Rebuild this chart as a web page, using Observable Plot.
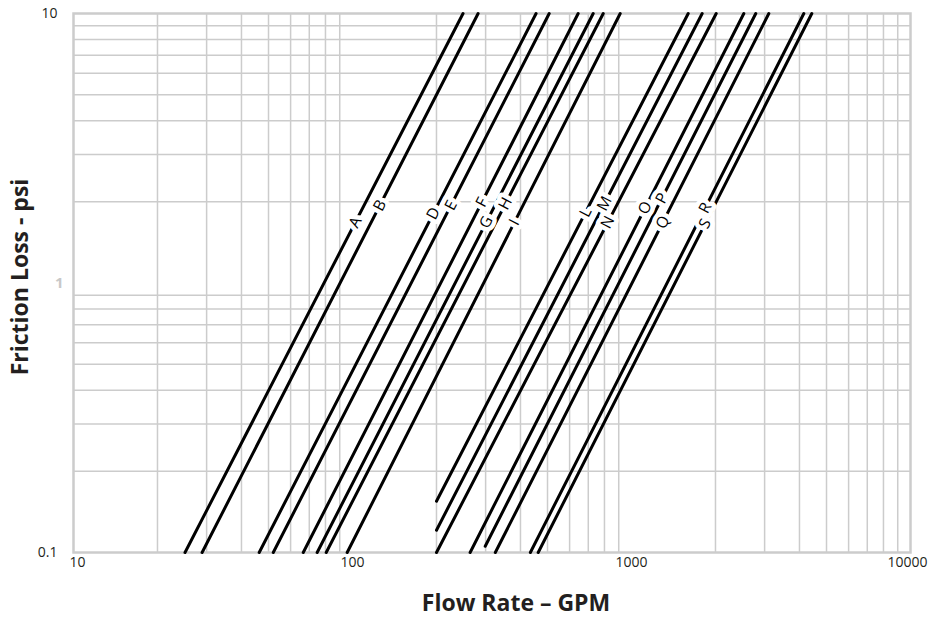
<!DOCTYPE html>
<html><head><meta charset="utf-8">
<script src="https://cdn.jsdelivr.net/npm/d3@7"></script>
<script src="https://cdn.jsdelivr.net/npm/@observablehq/plot@0.6"></script>
<style>body{margin:0;background:#fff;}</style>
</head><body><div id="chart"></div>
<script>
// Series: each friction-loss line runs from a start point to an end point
const names    = ["A","B","D","E","F","G","H","I","L","M","N","O","P","Q","R","S"];
const startGpm = [25.1, 28.9, 46.3, 52.0, 66.6, 74.7, 80.5, 95.7, 200, 200, 200, 264, 299, 325, 434, 463];
const startPsi = [0.1, 0.1, 0.1, 0.1, 0.1, 0.1, 0.1, 0.1, 0.155, 0.121, 0.1, 0.1, 0.1055, 0.1, 0.1, 0.1];
const endGpm   = [249, 282, 455, 507, 644, 729, 792, 911, 1597, 1792, 2012, 2527, 2789, 3106, 4146, 4429];
const endPsi   = [10, 10, 10, 10, 10, 10, 10, 10, 10, 10, 10, 10, 10, 10, 10, 10];
// psi at which each line's letter label sits
const labelPsi = [1.68, 1.94, 1.81, 1.94, 1.99, 1.68, 1.97, 1.68, 1.83, 1.97, 1.68, 1.90, 2.06, 1.68, 1.90, 1.66];

// Grid and tick labels
const xGrid = [20,30,40,50,60,70,80,90,200,300,400,500,600,700,800,900,2000,3000,4000,5000,6000,7000,8000,9000];
const yGrid = [0.2,0.3,0.4,0.5,0.6,0.7,0.8,0.9,2,3,4,5,6,7,8,9];
const xTicks = [10, 100, 1000, 10000];
const xTickLabels = ["10", "100", "1000", "10000"];
const yTicks = [0.1, 10];
const yTickLabels = ["0.1", "10"];
const yMidTick = [1];
const yMidTickLabel = ["1"];
const xTitle = "Flow Rate – GPM";
const yTitle = "Friction Loss - psi";

const lineData = names.flatMap((n, i) => [
  {name: n, gpm: startGpm[i], psi: startPsi[i]},
  {name: n, gpm: endGpm[i], psi: endPsi[i]}
]);
const labelData = names.map((n, i) => {
  const k = Math.log(endGpm[i] / startGpm[i]) / Math.log(endPsi[i] / startPsi[i]);
  return {name: n, psi: labelPsi[i], gpm: startGpm[i] * Math.pow(labelPsi[i] / startPsi[i], k)};
});
const angle = -62.7;
const ink = "#231f20";
const xTickShift = [4, 0, 0, -3];

const chart = Plot.plot({
  width: 929, height: 625,
  marginLeft: 73, marginRight: 19, marginTop: 13, marginBottom: 73,
  x: {type: "log", domain: [10, 10000], axis: null},
  y: {type: "log", domain: [0.1, 10], axis: null},
  style: {fontFamily: "'Open Sans', sans-serif", background: "white", color: ink},
  marks: [
    Plot.ruleX(xGrid, {x: d => d, stroke: "#cccccc", strokeWidth: 1.5}),
    Plot.ruleY(yGrid, {y: d => d, stroke: "#cccccc", strokeWidth: 1.5}),
    Plot.frame({stroke: "#cccccc", strokeWidth: 2.5}),
    Plot.line(lineData, {x: "gpm", y: "psi", z: "name", stroke: "black", strokeWidth: 3, strokeLinecap: "round"}),
    Plot.text(labelData, {x: "gpm", y: "psi", text: "name", rotate: angle, fontSize: 15.5,
      fill: "black", stroke: "white", strokeWidth: 9, paintOrder: "stroke"}),
    ...xTicks.map((t, i) => Plot.text([t], {x: d => d, frameAnchor: "bottom", dy: 14, dx: xTickShift[i], text: () => xTickLabels[i], fontSize: 14, fill: ink})),
    Plot.text(yTicks, {y: d => d, frameAnchor: "left", dx: -16, textAnchor: "end", text: (d, i) => yTickLabels[i], fontSize: 14, fill: ink}),
    Plot.text(yMidTick, {y: d => d, frameAnchor: "left", dx: -10, textAnchor: "end", text: (d, i) => yMidTickLabel[i], fontSize: 15, fontWeight: "bold", fill: "#c8c8c8"}),
    Plot.text([xTitle], {frameAnchor: "bottom", dy: 58, dx: 24, text: d => d, fontSize: 23, fontWeight: "bold", fill: ink}),
    Plot.text([yTitle], {frameAnchor: "left", dx: -53, dy: -6, rotate: -90, textAnchor: "middle", text: d => d, fontSize: 23, fontWeight: "bold", fill: ink})
  ]
});
document.getElementById("chart").appendChild(chart);
</script>
</body></html>
